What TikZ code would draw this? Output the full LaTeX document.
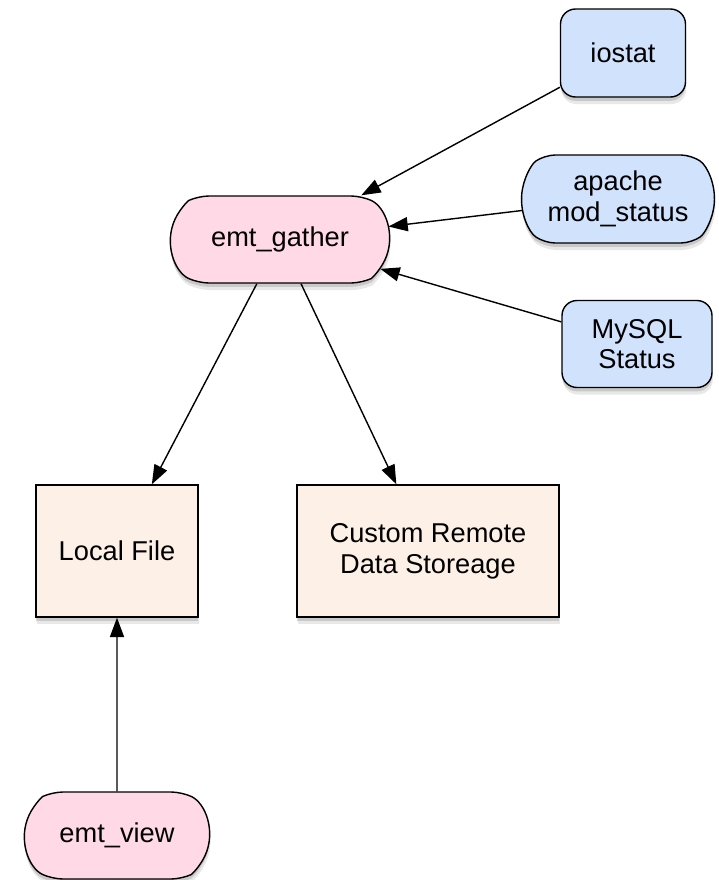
\documentclass[tikz,border=0pt]{standalone}
\usepackage{fontspec}
\setmainfont{Liberation Sans}
\usetikzlibrary{positioning}
\usetikzlibrary{shapes.misc}
\usetikzlibrary{shadows}
\usetikzlibrary{arrows.meta}
\definecolor{srcblue}{RGB}{208,226,252}
\definecolor{toolpink}{RGB}{255,218,230}
\definecolor{storepeach}{RGB}{253,240,230}
\tikzstyle{basenode} = [draw, line width=0.8pt, align=center, inner sep=2pt, font=\fontsize{15.5}{17.5}\selectfont,
  drop shadow={shadow xshift=0.5pt, shadow yshift=-4pt, opacity=0.18},
  drop shadow={shadow xshift=0pt, shadow yshift=-2.2pt, opacity=0.3}]
\tikzstyle{toolnode} = [basenode, rounded rectangle, rounded rectangle arc length=130, rounded corners=6pt, fill=toolpink, minimum height=1.74cm]
\tikzstyle{srcnode} = [basenode, fill=srcblue, minimum height=1.76cm]
\tikzstyle{roundbox} = [rectangle, rounded corners=0.3cm]
\tikzstyle{storenode} = [basenode, rectangle, fill=storepeach, minimum height=2.64cm]
\tikzstyle{flow} = [-{Triangle[length=11pt, width=8pt]}, line width=0.8pt]

\begin{document}
\begin{tikzpicture}[x=0.02cm, y=-0.02cm]
  \useasboundingbox (0,0) rectangle (719,880);
  \node[srcnode, roundbox, minimum width=2.5cm] (iostat) at (623,53) {iostat};
  \node[srcnode, rounded rectangle, rounded rectangle arc length=110, rounded corners=6pt, minimum width=4cm] (apache) at (618,199) {apache\\mod\_status};
  \node[srcnode, roundbox, minimum width=3cm, minimum height=1.74cm] (mysql) at (637,344) {MySQL\\Status};
  \node[toolnode, minimum width=4.52cm] (gather) at (280,239.5) {emt\_gather};
  \node[storenode, minimum width=3.24cm] (local) at (117,551) {Local File};
  \node[storenode, minimum width=5.24cm] (custom) at (428,551) {Custom Remote\\Data Storeage};
  \node[toolnode, minimum width=3.84cm] (view) at (117,835.5) {emt\_view};

  \draw[flow] (iostat) -- (gather);
  \draw[flow] (apache) -- (gather);
  \draw[flow] (mysql) -- (gather);
  \draw[flow] (gather) -- (local);
  \draw[flow] (gather) -- (custom);
  \draw[flow] (view) -- (local);
\end{tikzpicture}
\end{document}
